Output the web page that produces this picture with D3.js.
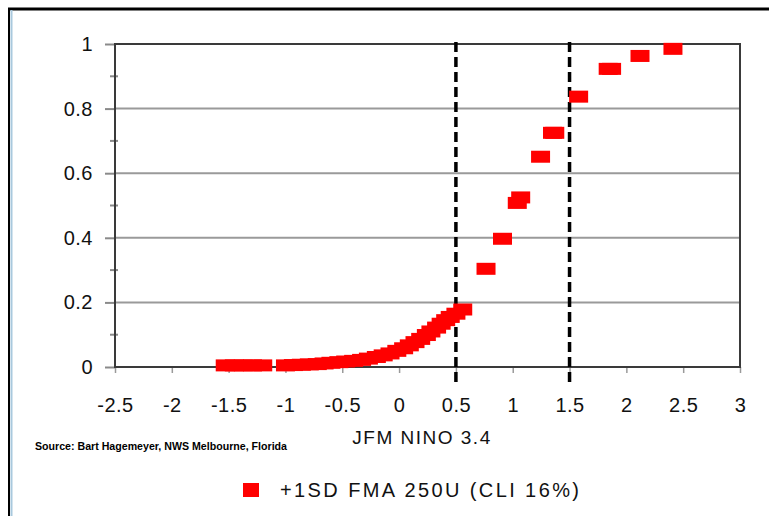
<!DOCTYPE html>
<html>
<head>
<meta charset="utf-8">
<script src="https://cdn.jsdelivr.net/npm/d3@7"></script>
<style>
  body { margin: 0; background: #fff; }
  text { font-family: "Liberation Sans", Arial, sans-serif; }
</style>
</head>
<body>
<div id="chart"></div>
<script>
// data: JFM nino 3.4 values and the probability of each
const ninoVals = [-1.53, -1.45, -1.37, -1.29, -1.2, -1.0, -0.93, -0.86, -0.79, -0.72,
  -0.66, -0.6, -0.53, -0.47, -0.4, -0.33, -0.27, -0.2, -0.14, -0.08,
  -0.02, 0.04, 0.09, 0.14, 0.19, 0.24, 0.28, 0.33, 0.37, 0.41,
  0.45, 0.5, 0.56, 0.765, 0.91, 1.04, 1.07, 1.245, 1.35, 1.37,
  1.58, 1.84, 1.87, 2.12, 2.41];
const probVals = [0.005, 0.005, 0.005, 0.005, 0.005, 0.005, 0.006, 0.007, 0.008, 0.009,
  0.011, 0.013, 0.015, 0.017, 0.019, 0.022, 0.026, 0.031, 0.036, 0.042,
  0.05, 0.058, 0.067, 0.077, 0.087, 0.099, 0.11, 0.122, 0.134, 0.145,
  0.155, 0.165, 0.178, 0.304, 0.397, 0.508, 0.525, 0.651, 0.725, 0.725,
  0.837, 0.923, 0.923, 0.963, 0.985];
const xTicks = [-2.5, -2, -1.5, -1, -0.5, 0, 0.5, 1, 1.5, 2, 2.5, 3];
const yTicks = [0, 0.2, 0.4, 0.6, 0.8, 1];
const yMinorTicks = [0.1, 0.3, 0.5, 0.7, 0.9];
const dashedAt = [0.5, 1.5];
const seriesName = "+1SD FMA 250U (CLI 16%)";

const width = 769, height = 516;
const plot = { left: 115, right: 740, top: 44, bottom: 367 };

var svg = d3.select("#chart")
  .append("svg")
  .attr("width", width)
  .attr("height", height);

// outer frame (top and left edges only are visible)
svg.append("line")
  .attr("x1", 8).attr("x2", width).attr("y1", 9).attr("y2", 9)
  .style("stroke", "#000").style("stroke-width", 3);
svg.append("line")
  .attr("x1", 9).attr("x2", 9).attr("y1", 8).attr("y2", height)
  .style("stroke", "#000").style("stroke-width", 2);
svg.append("line")
  .attr("x1", 11.5).attr("x2", 11.5).attr("y1", 10).attr("y2", height)
  .style("stroke", "#a9c9de").style("stroke-width", 2);

// scales
var x = d3.scaleLinear().domain([-2.5, 3]).range([plot.left, plot.right]);
var y = d3.scaleLinear().domain([0, 1]).range([plot.bottom, plot.top]);

// plain hyphen for negatives, like the original
var fmt = (d) => String(d);

// horizontal gridlines
svg.append("g")
  .selectAll("line")
  .data(yTicks.filter((d) => d > 0 && d < 1))
  .enter()
  .append("line")
  .attr("x1", plot.left).attr("x2", plot.right)
  .attr("y1", (d) => y(d)).attr("y2", (d) => y(d))
  .style("stroke", "#9a9a9a").style("stroke-width", 2);

// y axis: major ticks outward, minor ticks crossing
var yAxis = svg.append("g")
  .attr("transform", "translate(" + plot.left + ",0)")
  .call(d3.axisLeft(y).tickValues(yTicks).tickSize(10).tickPadding(12).tickFormat(fmt));
yAxis.select(".domain").remove();
yAxis.selectAll(".tick line").style("stroke", "#8a8a8a").style("stroke-width", 2);
yAxis.selectAll(".tick text")
  .style("font-size", "20px").style("fill", "#111").style("letter-spacing", "0.5px");

svg.append("g")
  .selectAll("line")
  .data(yMinorTicks)
  .enter()
  .append("line")
  .attr("x1", plot.left - 5).attr("x2", plot.left + 3)
  .attr("y1", (d) => y(d)).attr("y2", (d) => y(d))
  .style("stroke", "#8a8a8a").style("stroke-width", 2);

// x axis ticks and labels
var xAxis = svg.append("g")
  .attr("transform", "translate(0," + plot.bottom + ")")
  .call(d3.axisBottom(x).tickValues(xTicks).tickSize(6).tickPadding(25).tickFormat(fmt));
xAxis.select(".domain").remove();
xAxis.selectAll(".tick line").style("stroke", "#9a9a9a").style("stroke-width", 1.5);
xAxis.selectAll(".tick text")
  .style("font-size", "20px").style("fill", "#111").style("letter-spacing", "0.5px");

// plot border
svg.append("rect")
  .attr("x", plot.left).attr("y", plot.top)
  .attr("width", plot.right - plot.left).attr("height", plot.bottom - plot.top)
  .style("fill", "none").style("stroke", "#3a3a3a").style("stroke-width", 2);

// dashed reference lines
svg.append("g")
  .selectAll("line")
  .data(dashedAt)
  .enter()
  .append("line")
  .attr("x1", (d) => x(d)).attr("x2", (d) => x(d))
  .attr("y1", plot.top - 2).attr("y2", plot.bottom + 19)
  .style("stroke", "#000").style("stroke-width", 3.5)
  .style("stroke-dasharray", "10,5");

// points
var points = ninoVals.map((d, i) => ({ nino: d, prob: probVals[i] }));
svg.append("g")
  .selectAll("rect")
  .data(points)
  .enter()
  .append("rect")
  .attr("x", (d) => x(d.nino) - 9.5)
  .attr("y", (d) => y(d.prob) - 6)
  .attr("width", 19)
  .attr("height", 12)
  .style("fill", "#ff0000");

// axis title
svg.append("text")
  .text("JFM NINO 3.4")
  .attr("x", 422).attr("y", 444)
  .style("text-anchor", "middle")
  .style("font-size", "19px").style("fill", "#111").style("letter-spacing", "1.5px");

// source note
svg.append("text")
  .text("Source: Bart Hagemeyer, NWS Melbourne, Florida")
  .attr("x", 35).attr("y", 450)
  .attr("textLength", 252).attr("lengthAdjust", "spacingAndGlyphs")
  .style("font-size", "10px").style("font-weight", "bold").style("fill", "#000");

// legend
var legend = svg.append("g").attr("transform", "translate(243,490)");
legend.append("rect")
  .attr("x", 0).attr("y", -7).attr("width", 16).attr("height", 14)
  .style("fill", "#ff0000");
legend.append("text")
  .text(seriesName)
  .attr("x", 37).attr("y", 7)
  .style("font-size", "20px").style("fill", "#111").style("letter-spacing", "2.4px");
</script>
</body>
</html>
